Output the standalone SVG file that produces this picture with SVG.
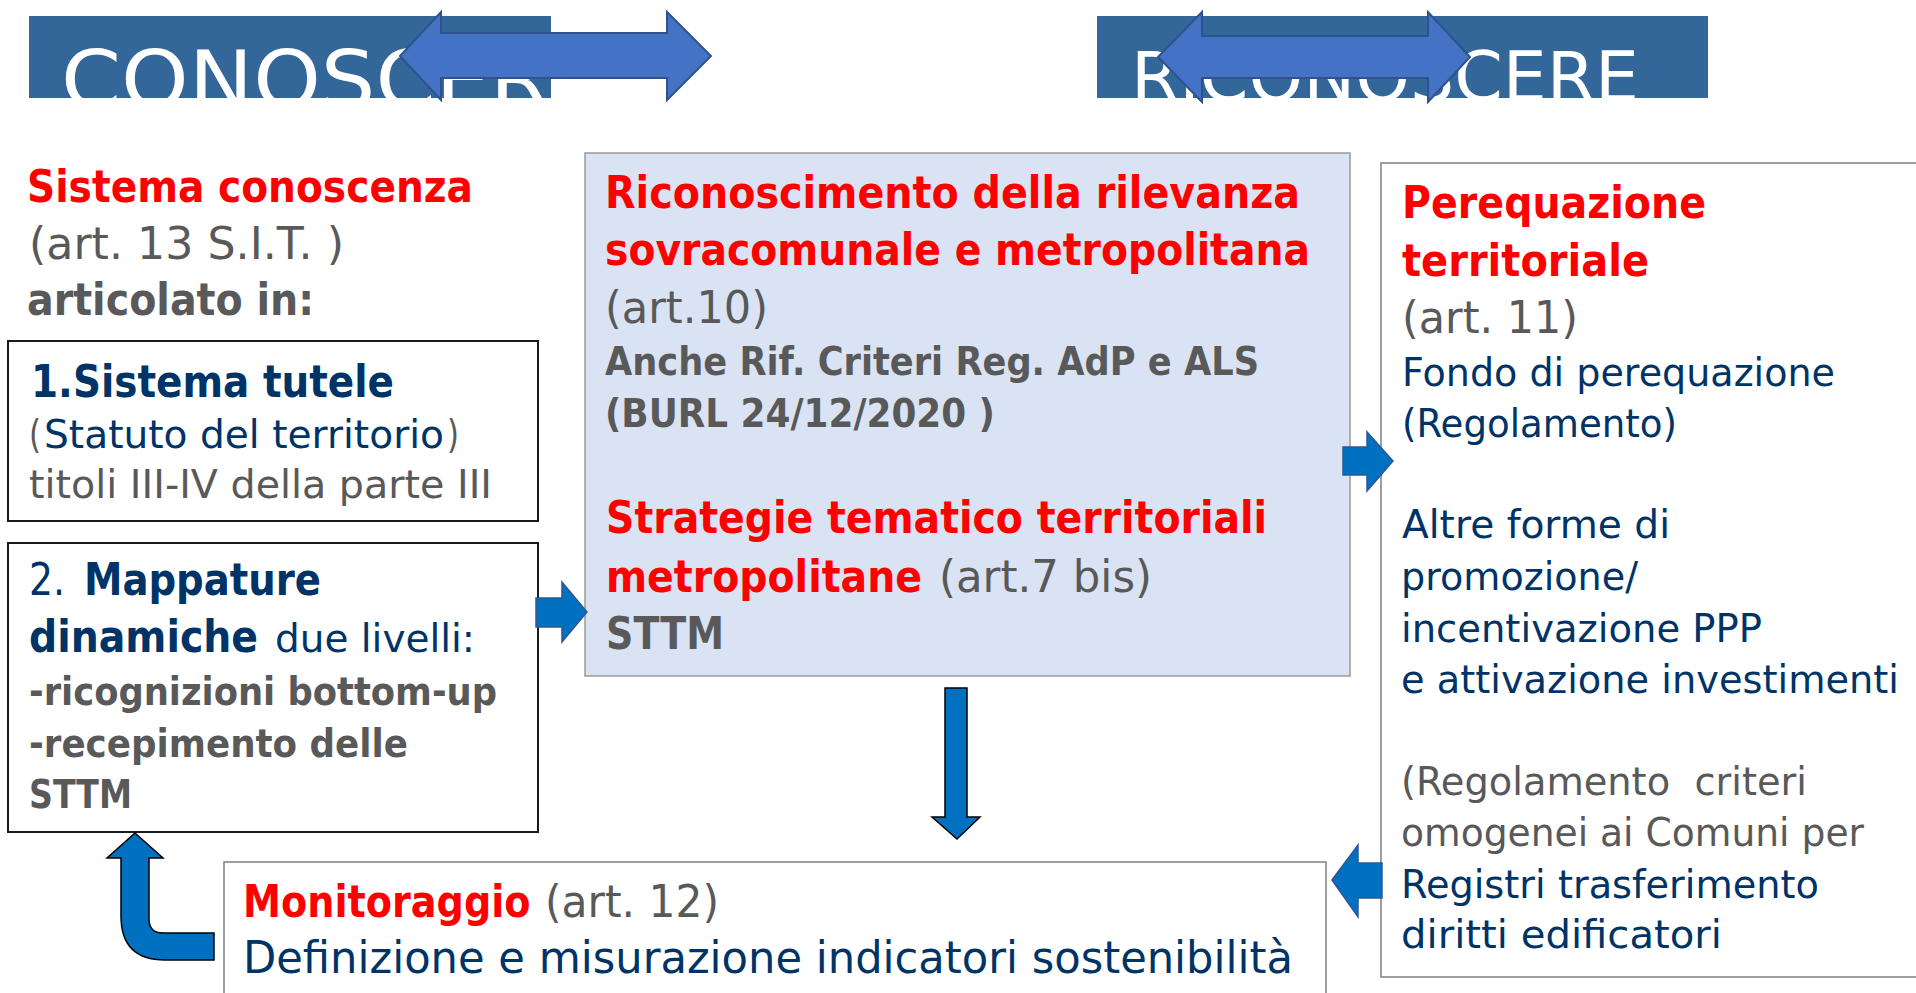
<svg xmlns="http://www.w3.org/2000/svg" width="1916" height="993" viewBox="0 0 1916 993">
<style>
text{font-family:"DejaVu Sans","Liberation Sans",sans-serif;}
.b{font-weight:bold;}
.L{font-size:44px;}
.S{font-size:39px;}
.red{fill:#FF0000;}
.gr{fill:#595959;}
.nv{fill:#003366;}
.hdr{fill:#FFFFFF;}
.box{fill:#FFFFFF;stroke:#1a1a1a;stroke-width:2;}
.boxg{fill:#FFFFFF;stroke:#808080;stroke-width:1.5;}
.boxc{fill:#DAE3F3;stroke:#9a9a9a;stroke-width:1.5;}
.arr{fill:#0070C0;stroke:#2F5597;stroke-width:1.5;stroke-linejoin:miter;}
.arrk{fill:#0070C0;stroke:#000000;stroke-width:1.5;}
.darr{fill:#4472C4;stroke:#2F528F;stroke-width:2;}
</style>
<defs>
<clipPath id="cl"><rect x="29" y="16" width="522" height="82"/></clipPath>
<clipPath id="cr"><rect x="1097" y="16" width="611" height="82"/></clipPath>
</defs>
<rect width="1916" height="993" fill="#FFFFFF"/>

<g id="header-conoscere">
<rect x="29" y="16" width="522" height="82" fill="#336699"/>
<text class="hdr" x="61" y="108" font-size="80" textLength="543" lengthAdjust="spacingAndGlyphs" clip-path="url(#cl)">CONOSCERE</text>
</g>
<g id="header-riconoscere">
<rect x="1097" y="16" width="611" height="82" fill="#336699"/>
<text class="hdr" x="1131" y="101" font-size="70" textLength="508" lengthAdjust="spacingAndGlyphs" clip-path="url(#cr)">RICONOSCERE</text>
</g>

<g id="intro">
<text class="L b red" x="27" y="202" textLength="446" lengthAdjust="spacingAndGlyphs">Sistema conoscenza</text>
<text class="L gr" x="29" y="259" textLength="315" lengthAdjust="spacingAndGlyphs">(art. 13 S.I.T. )</text>
<text class="L b gr" x="27" y="315" textLength="287" lengthAdjust="spacingAndGlyphs">articolato in:</text>
</g>

<g id="box-sistema-tutele">
<rect class="box" x="8" y="341" width="530" height="180"/>
<text class="L b nv" x="31" y="397" textLength="363" lengthAdjust="spacingAndGlyphs">1.Sistema tutele</text>
<text class="S gr" x="29" y="448" textLength="12" lengthAdjust="spacingAndGlyphs">(</text>
<text class="S nv" x="44" y="448" textLength="400" lengthAdjust="spacingAndGlyphs">Statuto del territorio</text>
<text class="S gr" x="447" y="448" textLength="12" lengthAdjust="spacingAndGlyphs">)</text>
<text class="S gr" x="29" y="498" textLength="463" lengthAdjust="spacingAndGlyphs">titoli III-IV della parte III</text>
</g>

<g id="box-mappature">
<rect class="box" x="8" y="543" width="530" height="289"/>
<text class="L nv" x="29" y="595" textLength="36" lengthAdjust="spacingAndGlyphs">2.</text>
<text class="L b nv" x="84" y="595" textLength="237" lengthAdjust="spacingAndGlyphs">Mappature</text>
<text class="L b nv" x="29" y="652" textLength="229" lengthAdjust="spacingAndGlyphs">dinamiche</text>
<text class="S nv" x="275" y="652" textLength="200" lengthAdjust="spacingAndGlyphs">due livelli:</text>
<text class="S b gr" x="29" y="705" textLength="468" lengthAdjust="spacingAndGlyphs">-ricognizioni bottom-up</text>
<text class="S b gr" x="29" y="757" textLength="379" lengthAdjust="spacingAndGlyphs">-recepimento delle</text>
<text class="S b gr" x="29" y="808" textLength="103" lengthAdjust="spacingAndGlyphs">STTM</text>
</g>

<g id="box-riconoscimento">
<rect class="boxc" x="585" y="153" width="765" height="523"/>
<text class="L b red" x="605" y="208" textLength="695" lengthAdjust="spacingAndGlyphs">Riconoscimento della rilevanza</text>
<text class="L b red" x="605" y="265" textLength="705" lengthAdjust="spacingAndGlyphs">sovracomunale e metropolitana</text>
<text class="L gr" x="605" y="323" textLength="163" lengthAdjust="spacingAndGlyphs">(art.10)</text>
<text class="S b gr" x="605" y="375" textLength="654" lengthAdjust="spacingAndGlyphs">Anche Rif. Criteri Reg. AdP e ALS</text>
<text class="S b gr" x="605" y="427" textLength="390" lengthAdjust="spacingAndGlyphs">(BURL 24/12/2020 )</text>
<text class="L b red" x="606" y="533" textLength="661" lengthAdjust="spacingAndGlyphs">Strategie tematico territoriali</text>
<text class="L b red" x="606" y="592" textLength="316" lengthAdjust="spacingAndGlyphs">metropolitane</text>
<text class="L gr" x="939" y="592" textLength="213" lengthAdjust="spacingAndGlyphs">(art.7 bis)</text>
<text class="L b gr" x="606" y="649" textLength="118" lengthAdjust="spacingAndGlyphs">STTM</text>
</g>

<g id="box-perequazione">
<rect class="boxg" x="1381" y="163" width="560" height="814"/>
<text class="L b red" x="1402" y="218" textLength="304" lengthAdjust="spacingAndGlyphs">Perequazione</text>
<text class="L b red" x="1402" y="276" textLength="247" lengthAdjust="spacingAndGlyphs">territoriale</text>
<text class="L gr" x="1402" y="333" textLength="176" lengthAdjust="spacingAndGlyphs">(art. 11)</text>
<text class="S nv" x="1402" y="386" textLength="433" lengthAdjust="spacingAndGlyphs">Fondo di perequazione</text>
<text class="S nv" x="1402" y="437" textLength="275" lengthAdjust="spacingAndGlyphs">(Regolamento)</text>
<text class="S nv" x="1402" y="538" textLength="268" lengthAdjust="spacingAndGlyphs">Altre forme di</text>
<text class="S nv" x="1401" y="590" textLength="237" lengthAdjust="spacingAndGlyphs">promozione/</text>
<text class="S nv" x="1401" y="642" textLength="361" lengthAdjust="spacingAndGlyphs">incentivazione PPP</text>
<text class="S nv" x="1401" y="693" textLength="498" lengthAdjust="spacingAndGlyphs">e attivazione investimenti</text>
<text class="S gr" x="1401" y="795" textLength="406" lengthAdjust="spacingAndGlyphs" xml:space="preserve">(Regolamento  criteri</text>
<text class="S gr" x="1401" y="846" textLength="463" lengthAdjust="spacingAndGlyphs">omogenei ai Comuni per</text>
<text class="S nv" x="1401" y="898" textLength="418" lengthAdjust="spacingAndGlyphs">Registri trasferimento</text>
<text class="S nv" x="1401" y="948" textLength="321" lengthAdjust="spacingAndGlyphs">diritti edificatori</text>
</g>

<g id="box-monitoraggio">
<rect class="boxg" x="224" y="862" width="1102" height="150"/>
<text class="L b red" transform="matrix(0.868,0,0,1,243,917)">Monitoraggio</text>
<text class="L gr" x="545" y="917" textLength="174" lengthAdjust="spacingAndGlyphs">(art. 12)</text>
<text class="L nv" x="243" y="973" textLength="1050" lengthAdjust="spacingAndGlyphs">Definizione e misurazione indicatori sostenibilità</text>
</g>

<g id="connectors">
<path class="darr" d="M400,56 L441,12 L441,33 L667,33 L667,12 L711,56 L667,100 L667,78 L441,78 L441,100 Z"/>
<path class="darr" d="M1158,57 L1202,12 L1202,36 L1428,36 L1428,12 L1470,57 L1428,102 L1428,78 L1202,78 L1202,102 Z"/>
<path class="arr" d="M536,598 L562,598 L562,582 L587,612 L562,642 L562,627 L536,627 Z"/>
<path class="arr" d="M1343,447 L1367,447 L1367,432 L1393,461 L1367,491 L1367,475 L1343,475 Z"/>
<path class="arr" d="M1332,880 L1358,845 L1358,863 L1382,863 L1382,898 L1358,898 L1358,917 Z"/>
<path class="arrk" d="M945,688 L967,688 L967,817 L980,817 L957,839 L932,817 L945,817 Z"/>
<path class="arrk" d="M135,833 L163,858 L149,858 L149,919 Q149,933 163,933 L214,933 L214,960 L165,960 Q121,960 121,916 L121,858 L107,858 Z"/>
</g>
</svg>
